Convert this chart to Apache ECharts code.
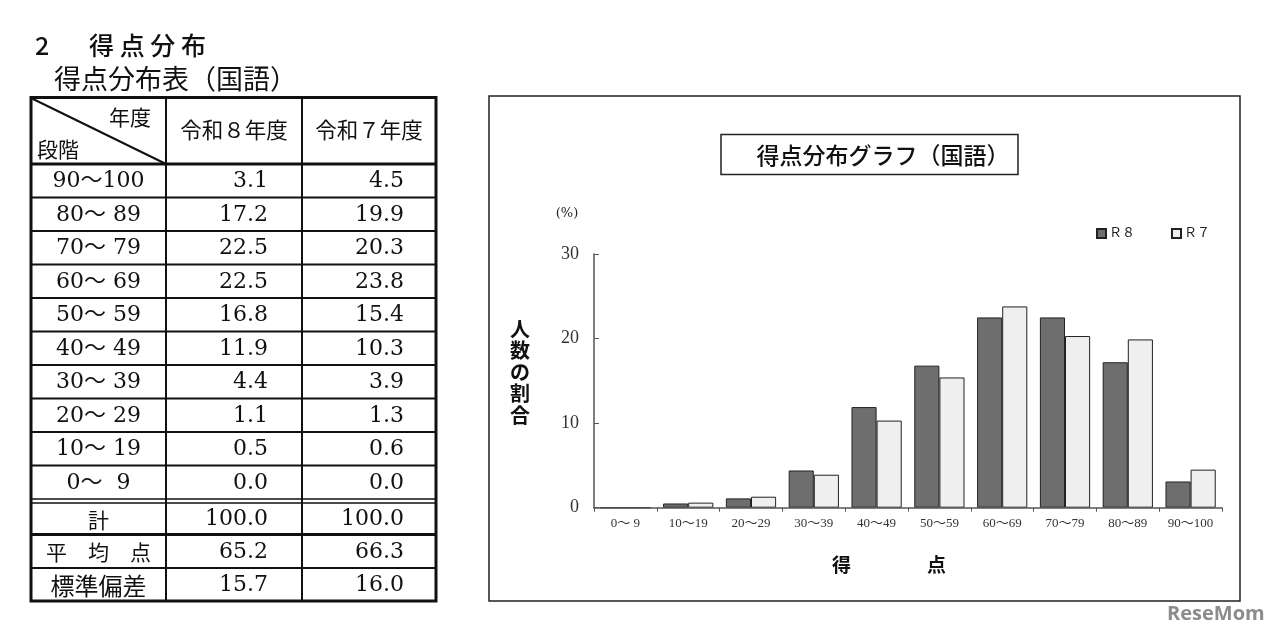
<!DOCTYPE html>
<html><head><meta charset="utf-8">
<script src="https://cdn.jsdelivr.net/npm/echarts@6/dist/echarts.min.js"></script>
<style>html,body{margin:0;padding:0;background:#fff}#c{width:1280px;height:639px}</style>
</head><body><div id="c"></div>
<script>
// ---- data ----
const categories = ['0〜 9','10〜19','20〜29','30〜39','40〜49','50〜59','60〜69','70〜79','80〜89','90〜100'];
const seriesNames = ['Ｒ８','Ｒ７'];
const r8 = [0.0, 0.5, 1.1, 4.4, 11.9, 16.8, 22.5, 22.5, 17.2, 3.1];
const r7 = [0.0, 0.6, 1.3, 3.9, 10.3, 15.4, 23.8, 20.3, 19.9, 4.5];
const yTicks = [0, 10, 20, 30];
const tableBands = ['90〜100','80〜 89','70〜 79','60〜 69','50〜 59','40〜 49','30〜 39','20〜 29','10〜 19','0〜  9'];
const tableYears = ['令和８年度','令和７年度'];
const totals = [100.0, 100.0];
const means = [65.2, 66.3];
const sds = [15.7, 16.0];
const summaryLabels = ['計','平　均　点','標準偏差'];

// ---- layout helpers ----
const SERIF = '"DejaVu Serif","Liberation Serif","Noto Sans CJK JP"';
const GOTHIC = '"Noto Sans CJK JP"';
const g = [];
function T(text, x, y, size, o) {
  o = o || {};
  const align = o.align || 'left', va = o.va || 'middle';
  g.push({type:'text', z:10, style:{text:text, x:x, y:y,
    font:(o.weight||'normal')+' '+size+'px '+(o.family||SERIF),
    fill:o.fill||'#111', align:align, textAlign:align, verticalAlign:va, textVerticalAlign:va,
    lineHeight:o.lh}});
}
function L(x1,y1,x2,y2,w,c){ g.push({type:'line', z:5, shape:{x1,y1,x2,y2}, style:{stroke:c||'#111', lineWidth:w}}); }
function R(x,y,w,h,lw,c){ g.push({type:'rect', z:5, shape:{x,y,width:w,height:h}, style:{fill:'none', stroke:c||'#111', lineWidth:lw}}); }

// headings
T('2', 35, 45, 25, {family:GOTHIC, weight:'500'});
T('得 点 分 布', 89, 45, 25, {family:GOTHIC, weight:'500'});
T('得点分布表（国語）', 54, 79, 27, {family:GOTHIC});

// table geometry
const tx0 = 31, tx1 = 166, tx2 = 302, tx3 = 436;
const tTop = 97.5, hdrBot = 164, rowH = 33.5;
const bandBot = hdrBot + rowH * tableBands.length; // ~499
const sumTops = [503, 534.5, 568, 601];
// borders
R(tx0, tTop, tx3 - tx0, sumTops[3] - tTop, 3);
L(tx1, tTop, tx1, sumTops[3], 2);
L(tx2, tTop, tx2, sumTops[3], 2);
L(tx0, hdrBot, tx3, hdrBot, 3);
for (let i = 1; i < tableBands.length; i++) L(tx0, hdrBot + rowH*i, tx3, hdrBot + rowH*i, 2);
L(tx0, bandBot, tx3, bandBot, 1.5);
L(tx0, sumTops[0], tx3, sumTops[0], 1.5);
L(tx0, sumTops[1], tx3, sumTops[1], 3);
L(tx0, sumTops[2], tx3, sumTops[2], 2);
L(tx0 + 1, tTop + 1, tx1, hdrBot, 2);
// header texts
T('年度', 151, 117, 21, {family:GOTHIC, align:'right'});
T('段階', 37, 149, 21, {family:GOTHIC});
T(tableYears[0], (tx1+tx2)/2, 130, 21.5, {family:GOTHIC, align:'center'});
T(tableYears[1], (tx2+tx3)/2, 130, 21.5, {family:GOTHIC, align:'center'});
// band rows
for (let i = 0; i < tableBands.length; i++) {
  const cy = hdrBot + rowH*i + rowH/2 + 1;
  const k = tableBands.length - 1 - i;
  T(tableBands[i], (tx0+tx1)/2, cy, 22, {align:'center'});
  T(r8[k].toFixed(1), tx2 - 34, cy, 22, {align:'right'});
  T(r7[k].toFixed(1), tx3 - 32, cy, 22, {align:'right'});
}
const sumVals = [totals, means, sds];
for (let i = 0; i < 3; i++) {
  const cy = (sumTops[i] + sumTops[i+1]) / 2 + 1;
  T(summaryLabels[i], (tx0+tx1)/2, cy, i === 2 ? 24 : 21, {family:GOTHIC, align:'center'});
  T(sumVals[i][0].toFixed(1), tx2 - 34, cy, 22, {align:'right'});
  T(sumVals[i][1].toFixed(1), tx3 - 32, cy, 22, {align:'right'});
}

// chart frame and titles
R(489, 96, 751, 505, 1.5, '#222');
R(721, 134.5, 297, 40, 1.5, '#222');
T('得点分布グラフ（国語）', 883, 155, 23, {family:GOTHIC, weight:'500', align:'center'});
T('(%)', 567, 214, 13, {align:'center', fill:'#222'});
T('人\n数\nの\n割\n合', 520, 372, 20, {family:GOTHIC, weight:'bold', align:'center', lh:21.5});
T('得　　　　点', 889, 565, 19, {family:GOTHIC, weight:'bold', align:'center'});
T('ReseMom', 1167, 614, 20, {family:'"Open Sans","Noto Sans"', weight:'bold', fill:'#8c8c8c'});

const chart = echarts.init(document.getElementById('c'), null, {renderer:'canvas'});
chart.setOption({
  backgroundColor:'#fff',
  animation:false,
  graphic: g,
  legend: {
    left: 1091, top: 222, itemWidth: 9, itemHeight: 9, itemGap: 36, icon:'rect',
    textStyle:{fontSize:13, color:'#222', fontFamily:SERIF, padding:[0,0,0,-2]},
    data: seriesNames
  },
  grid: {left:594, top:254, width:628, height:253.7, containLabel:false},
  xAxis: {
    type:'category', data:categories, z:5,
    axisLine:{lineStyle:{color:'#555', width:1.5}},
    axisTick:{show:true, length:4, lineStyle:{color:'#555'}},
    axisLabel:{interval:0, fontSize:13, color:'#333', margin:9, fontFamily:'"Liberation Serif","Noto Sans CJK JP"'}
  },
  yAxis: {
    type:'value', min:yTicks[0], max:yTicks[yTicks.length-1], interval:10,
    axisLine:{show:true, lineStyle:{color:'#555', width:1.5}},
    axisTick:{show:true, inside:true, length:5, lineStyle:{color:'#555'}},
    splitLine:{show:false},
    axisLabel:{fontSize:18, color:'#333', margin:15, fontFamily:'"Liberation Serif"'}
  },
  series: [
    {name:seriesNames[0], type:'bar', data:r8, barGap:'0%', barCategoryGap:'20%',
     itemStyle:{color:'#6e6e6e', borderColor:'#222', borderWidth:1}},
    {name:seriesNames[1], type:'bar', data:r7,
     itemStyle:{color:'#efefef', borderColor:'#222', borderWidth:1}}
  ]
});
</script>
</body></html>
